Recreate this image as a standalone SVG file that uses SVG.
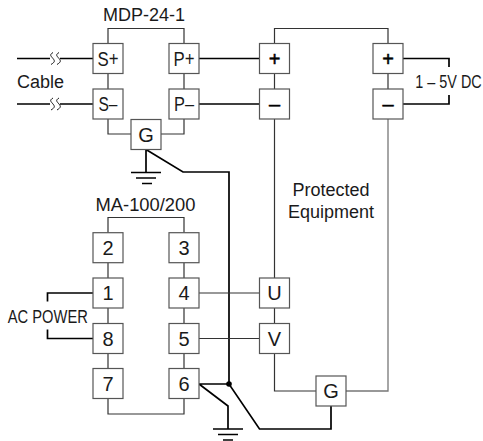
<svg xmlns="http://www.w3.org/2000/svg" width="483" height="441" viewBox="0 0 483 441">
<style>
text{font-family:"Liberation Sans",Arial,sans-serif;fill:#1a1a1a;text-anchor:middle}
.n rect{fill:#fff;stroke:#555;stroke-width:1.2}
.n text{font-size:20px}
.n text.s{fill:#000;stroke:#000;stroke-width:0.5}
.l{font-size:18px}
.w{fill:none;stroke:#333;stroke-width:1.2}
.g{fill:none;stroke:#777;stroke-width:1.3}
.t{fill:none;stroke:#000;stroke-width:1.7}
.h{fill:none;stroke:#000;stroke-width:1.5}
.q{fill:none;stroke:#000;stroke-width:0.9}
</style>
<g id="connectors">
<path class="w" d="M108 43.500V28.500H184V43.500M108 73.500V89M184 73.500V89M108 119V134H131M184 119V134H161"/>
<path class="w" d="M274.500 43.500V28.500H388V43.500M274.500 73.500V89M388 73.500V89"/>
<path class="w" d="M274.500 119V278"/>
<path class="g" d="M388 119V391H346"/>
<path class="t" d="M403 58.500H449V67M403 104H449V95"/>
<path class="t" d="M17 58.500H50M60 58.500H93M17 104H50M60 104H93"/>
<path class="t" d="M199 58.500H259.500M199 104H259.500"/>
<path class="q" d="M53 52.500C49 55 51 56 53 58.500C55 61 55 62 51 64.500M59 52.500C55 55 57 56 59 58.500C61 61 61 62 57 64.500M53 98C49 100.500 51 101.500 53 104C55 106.500 55 107.500 51 110M59 98C55 100.500 57 101.500 59 104C61 106.500 61 107.500 57 110"/>
<path class="t" d="M146 149.500V172M146 149.500L183 172H229V384"/>
<path class="h" d="M131 172.500H161M136 178H156M142 183.500H152"/>
<path class="t" d="M93 293H47.500V301.500M93 338.500H47.500V329.500"/>
<path class="w" d="M108 232.700V217.500H184V232.700M108 262.700V278M184 262.700V278M108 308V323.500M184 308V323.500M108 353.500V368.500M184 353.500V368.500M108 398.500V414H184V398.500"/>
<path class="w" d="M199 293H259.500M199 338.500H259.500M274.500 308V323.500"/>
<path class="w" d="M274.500 353.500V391H316"/>
<path class="t" d="M199 384H229L259.500 429H331V406M199 384L228 406V429"/>
<circle cx="229" cy="384" r="2.800" fill="#000"/>
<path class="h" d="M213 429H243M218 434.500H238M223 440H233"/>
</g>
<g id="node-s-plus" class="n"><rect x="93" y="43.500" width="30" height="30"/><text x="108" y="65.500" textLength="21" lengthAdjust="spacingAndGlyphs">S+</text></g>
<g id="node-s-minus" class="n"><rect x="93" y="89" width="30" height="30"/><text x="108" y="111" textLength="19" lengthAdjust="spacingAndGlyphs">S–</text></g>
<g id="node-p-plus" class="n"><rect x="169" y="43.500" width="30" height="30"/><text x="184" y="65.500" textLength="21" lengthAdjust="spacingAndGlyphs">P+</text></g>
<g id="node-p-minus" class="n"><rect x="169" y="89" width="30" height="30"/><text x="184" y="111" textLength="20" lengthAdjust="spacingAndGlyphs">P–</text></g>
<g id="node-g-top" class="n"><rect x="131" y="119.500" width="30" height="30"/><text x="146" y="141.500">G</text></g>
<g id="node-eq-plus-1" class="n"><rect x="259.500" y="43.500" width="30" height="30"/><text class="s" x="274.500" y="66">+</text></g>
<g id="node-eq-minus-1" class="n"><rect x="259.500" y="89" width="30" height="30"/><text class="s" x="274.500" y="111">–</text></g>
<g id="node-eq-plus-2" class="n"><rect x="373" y="43.500" width="30" height="30"/><text class="s" x="388" y="66">+</text></g>
<g id="node-eq-minus-2" class="n"><rect x="373" y="89" width="30" height="30"/><text class="s" x="388" y="111">–</text></g>
<g id="node-2" class="n"><rect x="93" y="232.700" width="30" height="30"/><text x="108" y="255">2</text></g>
<g id="node-3" class="n"><rect x="169" y="232.700" width="30" height="30"/><text x="184" y="255">3</text></g>
<g id="node-1" class="n"><rect x="93" y="278" width="30" height="30"/><text x="108" y="300">1</text></g>
<g id="node-4" class="n"><rect x="169" y="278" width="30" height="30"/><text x="184" y="300">4</text></g>
<g id="node-8" class="n"><rect x="93" y="323.500" width="30" height="30"/><text x="108" y="345.500">8</text></g>
<g id="node-5" class="n"><rect x="169" y="323.500" width="30" height="30"/><text x="184" y="345.500">5</text></g>
<g id="node-7" class="n"><rect x="93" y="368.500" width="30" height="30"/><text x="108" y="390.500">7</text></g>
<g id="node-6" class="n"><rect x="169" y="368.500" width="30" height="30"/><text x="184" y="390.500">6</text></g>
<g id="node-u" class="n"><rect x="259.500" y="278" width="30" height="30"/><text x="274.500" y="300">U</text></g>
<g id="node-v" class="n"><rect x="259.500" y="323.500" width="30" height="30"/><text x="274.500" y="345.500">V</text></g>
<g id="node-g-bottom" class="n"><rect x="316" y="376" width="30" height="30"/><text x="331" y="398">G</text></g>
<g id="labels">
<text class="l" x="144" y="21">MDP-24-1</text>
<text class="l" x="40.500" y="88">Cable</text>
<text class="l" x="145.500" y="211" textLength="100" lengthAdjust="spacingAndGlyphs">MA-100/200</text>
<text class="l" x="331" y="196">Protected</text>
<text class="l" x="331" y="218">Equipment</text>
<text class="l" transform="translate(448.500 88) scale(0.8 1)">1 – 5V DC</text>
<text class="l" x="47.800" y="323" textLength="80" lengthAdjust="spacingAndGlyphs">AC POWER</text>
</g>
</svg>
